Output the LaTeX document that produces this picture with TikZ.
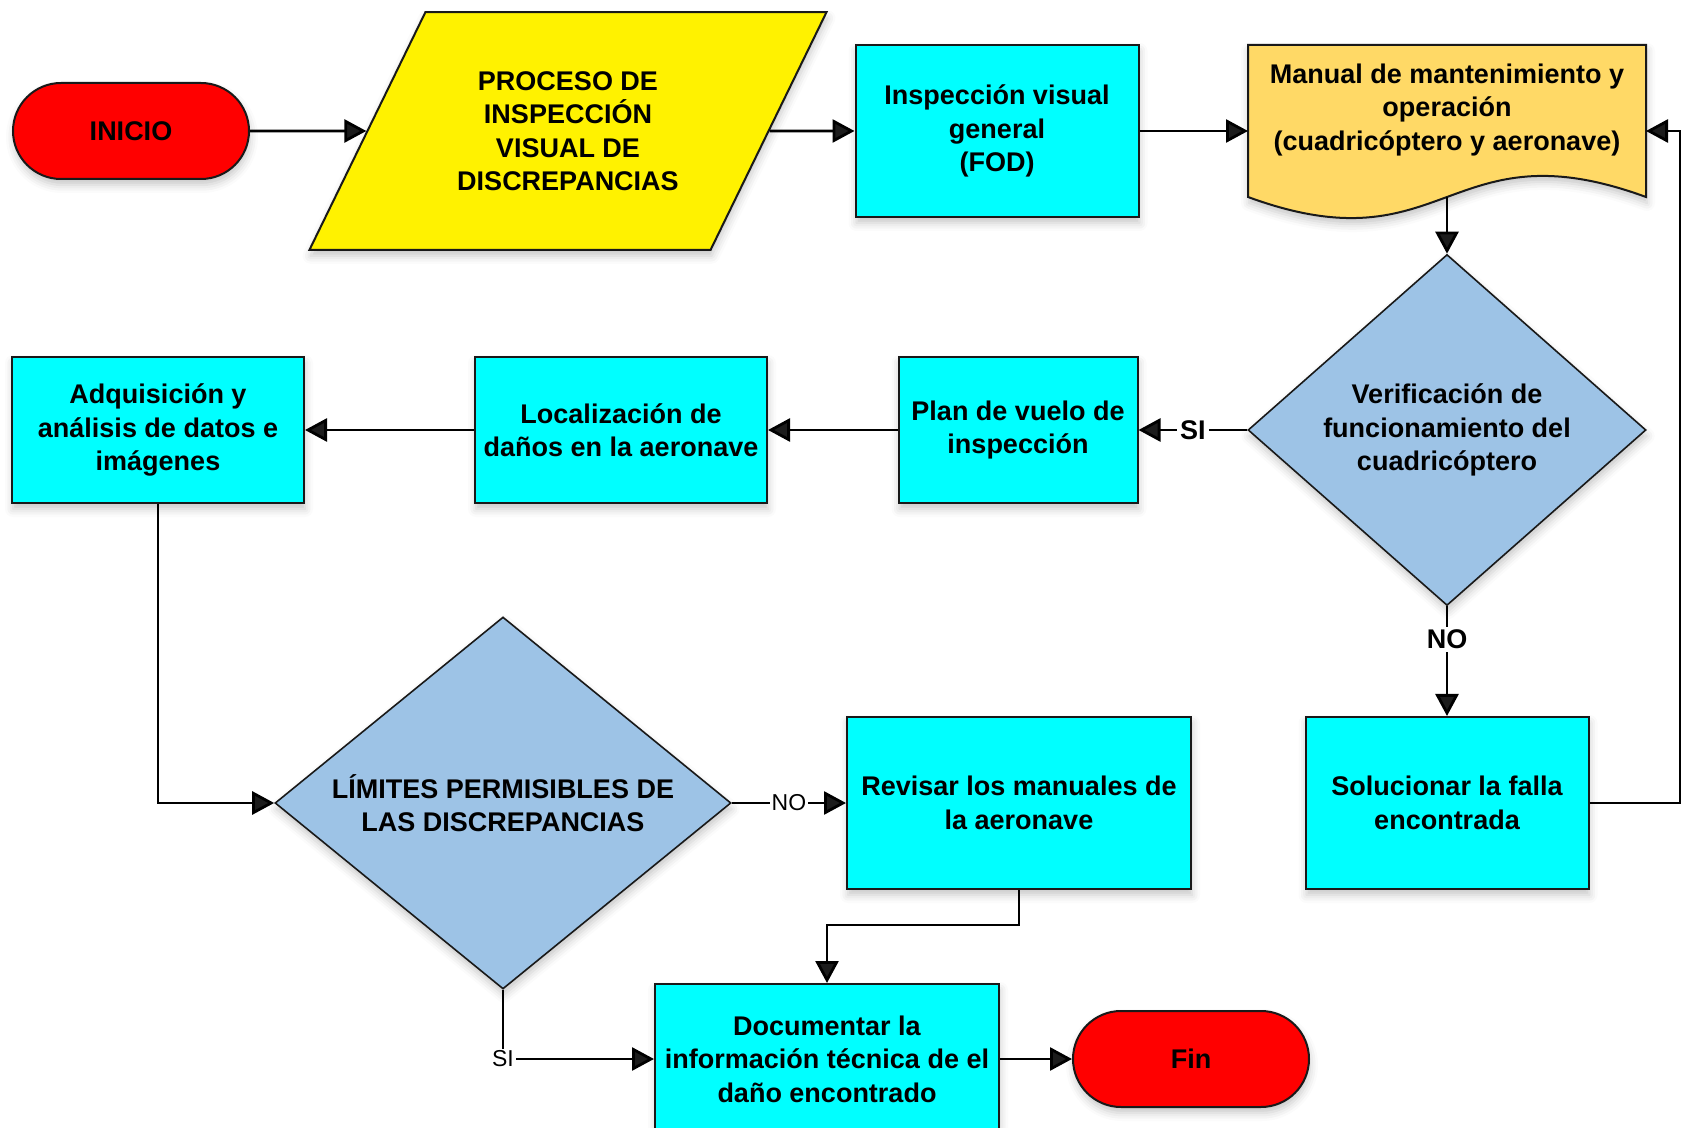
\documentclass[tikz,border=0pt]{standalone}
\usepackage{fontspec}
\setmainfont{Liberation Sans}
\usetikzlibrary{shapes.geometric,shapes.misc,arrows.meta,shadows.blur}
\definecolor{azuldec}{HTML}{9DC3E6}
\definecolor{amarillodoc}{HTML}{FFD966}
\definecolor{cian}{HTML}{00FFFF}

\begin{document}
\begin{tikzpicture}[x=0.5pt,y=-0.5pt,font=\bfseries\fontsize{13.5}{16.75}\selectfont]
    \tikzstyle{every node}=[align=center,inner sep=1pt]
    \tikzstyle{sombra}=[blur shadow={shadow xshift=0.5pt,shadow yshift=-3pt,shadow blur radius=4pt,shadow opacity=22}]
    \tikzstyle{caja}=[rectangle,draw=black!90,line width=1pt,fill=cian,sombra]
    \tikzstyle{terminal}=[rounded rectangle,draw=black!90,line width=1pt,fill=red,minimum width=120pt,minimum height=48pt,sombra]
    \tikzstyle{datos}=[trapezium,trapezium left angle=64,trapezium right angle=116,trapezium stretches body,draw=black!90,line width=1pt,fill=yellow,minimum width=258.5pt,inner xsep=1pt,inner ysep=29.5pt,sombra]
    \tikzstyle{decision}=[diamond,draw=black!90,line width=0.8pt,fill=azuldec,inner sep=0pt,sombra]
    \tikzstyle{documento}=[draw=black!90,line width=1pt,fill=amarillodoc,sombra]
    \tikzstyle{flecha}=[line width=1.4pt,-{Triangle[length=11pt,width=11.5pt]}]
    \tikzstyle{si-no}=[fill=white,inner sep=1.5pt]
    \tikzstyle{si-no chico}=[fill=white,inner sep=1pt,font=\mdseries\fontsize{11.5}{13}\selectfont]
    \useasboundingbox (0,0) rectangle (1683,1128);

    \node[terminal] (inicio) at (131,131) {INICIO};
    \node[datos] (proceso) at (568,131) {PROCESO DE\\INSPECCIÓN\\VISUAL DE\\DISCREPANCIAS};
    \node[caja,minimum width=141.5pt,minimum height=86pt] (insp) at (997,131) {Inspección visual\\general\\(FOD)};
    \path[documento] (1248,45) -- (1646,45) -- (1646,197)
        .. controls (1447,124) and (1447,270) .. (1248,197) -- cycle;
    \node (manual) at (1447,110) {Manual de mantenimiento y\\operación\\(cuadricóptero y aeronave)};
    \coordinate (manual-w) at (1248,131);
    \coordinate (manual-e) at (1646,131);
    \coordinate (manual-s) at (1447,197);
    \node[decision,aspect=1.13,minimum width=199pt,minimum height=175.5pt] (verif) at (1447,430) {Verificación de\\funcionamiento del\\cuadricóptero};
    \node[caja,minimum width=141.5pt,minimum height=86pt] (solucion) at (1447,803) {Solucionar la falla\\encontrada};
    \coordinate (retorno) at (1680,803);
    \node[caja,minimum width=119.5pt,minimum height=73pt] (plan) at (1018,430) {Plan de vuelo de\\inspección};
    \node[caja,minimum width=146pt,minimum height=73pt] (local) at (621,430) {Localización de\\daños en la aeronave};
    \node[caja,minimum width=146pt,minimum height=73pt] (adq) at (158,430) {Adquisición y\\análisis de datos e\\imágenes};
    \node[decision,aspect=1.23,minimum width=228pt,minimum height=186pt] (limites) at (503,803) {LÍMITES PERMISIBLES DE\\LAS DISCREPANCIAS};
    \node[caja,minimum width=172pt,minimum height=86pt] (revisar) at (1019,803) {Revisar los manuales de\\la aeronave};
    \coordinate (quiebre) at (827,925);
    \node[caja,minimum width=172pt,minimum height=75pt] (doc) at (827,1059) {Documentar la\\información técnica de el\\daño encontrado};
    \node[terminal] (fin) at (1191,1059) {Fin};

    \draw[flecha] (inicio) -- (proceso);
    \draw[flecha] (proceso) -- (insp);
    \draw[flecha] (insp) -- (manual-w);
    \draw[flecha] (manual-s) -- (verif);
    \draw[flecha] (verif) -- node[si-no] {SI} (plan);
    \draw[flecha] (verif) -- node[si-no,pos=0.3] {NO} (solucion);
    \draw[flecha] (solucion) -- (retorno) |- (manual-e);
    \draw[flecha] (plan) -- (local);
    \draw[flecha] (local) -- (adq);
    \draw[flecha] (adq) |- (limites);
    \draw[flecha] (limites) -- node[si-no chico] {NO} (revisar);
    \draw[flecha] (revisar) |- (quiebre) -- (doc);
    \draw[flecha] (limites) |- node[si-no chico] {SI} (doc);
    \draw[flecha] (doc) -- (fin);
\end{tikzpicture}
\end{document}
